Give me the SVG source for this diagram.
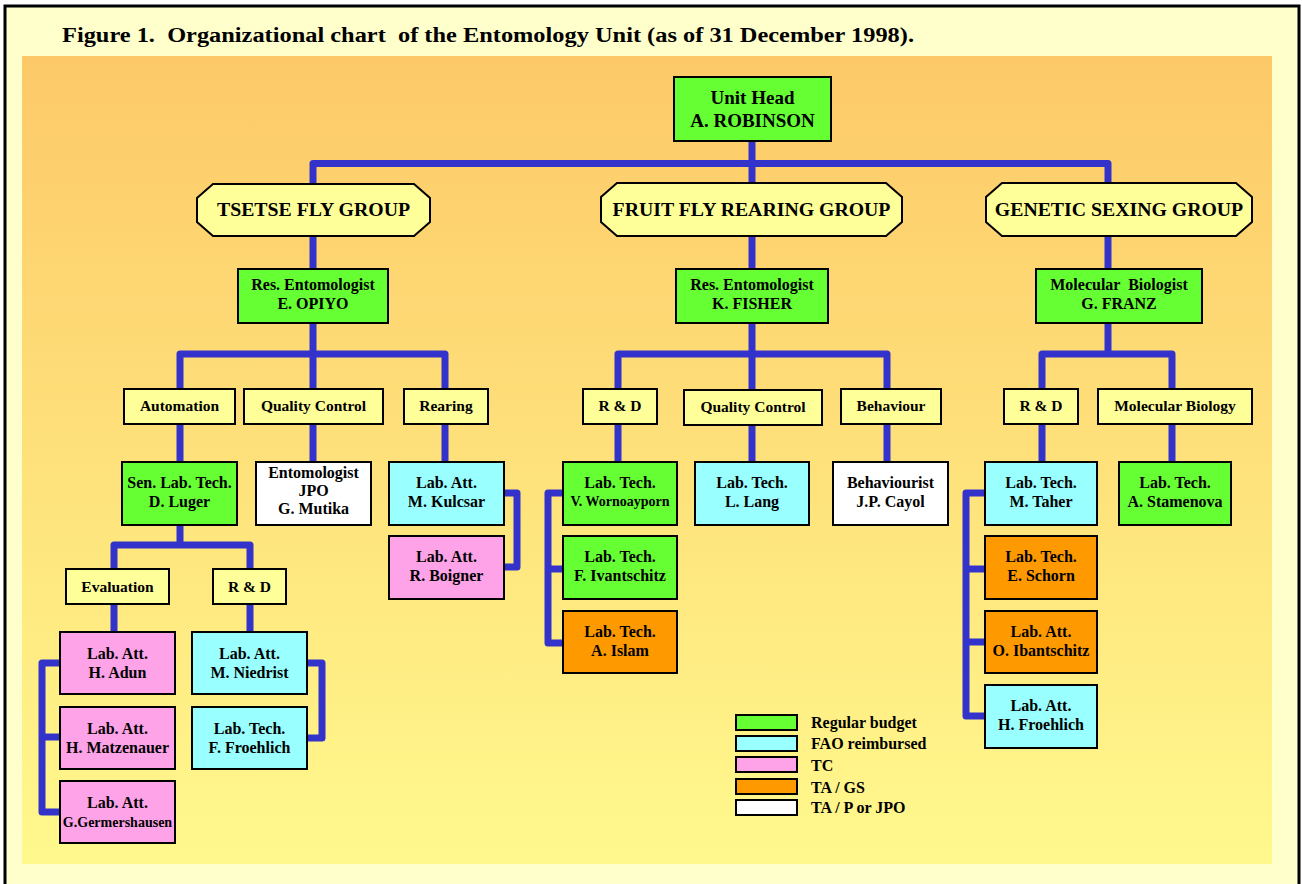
<svg xmlns="http://www.w3.org/2000/svg" width="1302" height="884" viewBox="0 0 1302 884">
<defs>
<linearGradient id="bg" x1="0" y1="0" x2="0" y2="1">
<stop offset="0" stop-color="#FDC968"/>
<stop offset="1" stop-color="#FFF98D"/>
</linearGradient>
</defs>
<style>
text{font-family:"Liberation Serif","Times New Roman",serif;font-weight:bold;fill:#000;text-anchor:middle}
.box{stroke:#000;stroke-width:2}
.g{fill:#66FF33}.c{fill:#99FFFF}.p{fill:#FFA3E8}.o{fill:#FF9900}.w{fill:#FFFFFF}.y{fill:#FFFF99}
.t19{font-size:19px}.t20{font-size:19.8px}.t16{font-size:16px}.t15{font-size:15.5px}.t14{font-size:14px}
.conn path{fill:none;stroke:#3333CC;stroke-width:7;stroke-linejoin:round}
.leg text{text-anchor:start;font-size:16px}
</style>
<rect x="5" y="6" width="1294" height="890" fill="#FFFFCC" stroke="#000" stroke-width="3"/>
<rect x="22" y="56" width="1250" height="808" fill="url(#bg)"/>
<text x="62" y="42" style="text-anchor:start;font-size:20.5px;white-space:pre" textLength="852" lengthAdjust="spacingAndGlyphs">Figure 1.  Organizational chart  of the Entomology Unit (as of 31 December 1998).</text>

<g id="connectors" class="conn">
<path d="M313,269 V163.5 H1108 V269"/>
<path d="M752,141 V269"/>
<path d="M313,323 V462"/>
<path d="M180,389 V354 H445 V389"/>
<path d="M180,424 V462"/>
<path d="M445,424 V462"/>
<path d="M180,525 V545"/>
<path d="M114,569 V545 H250 V569"/>
<path d="M114,604 V632"/>
<path d="M250,604 V632"/>
<path d="M60,663 H42 V812 H60"/>
<path d="M42,737 H60"/>
<path d="M307,663 H322 V738 H307"/>
<path d="M504,493 H517 V567 H504"/>
<path d="M752,323 V462"/>
<path d="M618,389 V354 H887 V389"/>
<path d="M618,424 V462"/>
<path d="M887,424 V462"/>
<path d="M563,493 H548 V643 H563"/>
<path d="M548,569 H563"/>
<path d="M1108,323 V354"/>
<path d="M1042,389 V354 H1172 V389"/>
<path d="M1042,424 V462"/>
<path d="M1172,424 V462"/>
<path d="M985,493 H966 V716 H985"/>
<path d="M966,569 H985"/>
<path d="M966,642 H985"/>
</g>

<g id="unit-head"><rect class="box g" x="674" y="77" width="157" height="64"/><text class="t19" x="752.5" y="104">Unit Head</text><text class="t19" x="752.5" y="127">A. ROBINSON</text></g>

<g id="tsetse-group"><polygon class="box y" points="213,184 414,184 430,198 430,222 414,236 213,236 197,222 197,198"/><text class="t20" x="313.5" y="216">TSETSE FLY GROUP</text></g>
<g id="fruitfly-group"><polygon class="box y" points="617,183 886,183 902,197 902,222 886,236 617,236 601,222 601,197"/><text class="t20" x="751.5" y="216">FRUIT FLY REARING GROUP</text></g>
<g id="genetic-group"><polygon class="box y" points="1002,183 1236,183 1252,197 1252,222 1236,236 1002,236 986,222 986,197"/><text class="t20" x="1119" y="216">GENETIC SEXING GROUP</text></g>

<g id="opiyo"><rect class="box g" x="238" y="269" width="150" height="54"/><text class="t16" x="313" y="290">Res. Entomologist</text><text class="t16" x="313" y="309">E. OPIYO</text></g>
<g id="fisher"><rect class="box g" x="676" y="269" width="152" height="54"/><text class="t16" x="752" y="290">Res. Entomologist</text><text class="t16" x="752" y="309">K. FISHER</text></g>
<g id="franz"><rect class="box g" x="1036" y="269" width="166" height="54"/><text class="t16" x="1119" y="290" style="white-space:pre">Molecular  Biologist</text><text class="t16" x="1119" y="309">G. FRANZ</text></g>

<g id="automation"><rect class="box y" x="124" y="389" width="111" height="35"/><text class="t15" x="179.5" y="411">Automation</text></g>
<g id="tsetse-qc"><rect class="box y" x="244" y="389" width="139" height="35"/><text class="t15" x="313.5" y="411">Quality Control</text></g>
<g id="rearing"><rect class="box y" x="404" y="389" width="84" height="35"/><text class="t15" x="446" y="411">Rearing</text></g>
<g id="fruit-rd"><rect class="box y" x="583" y="389" width="74" height="35"/><text class="t15" x="620" y="411">R &amp; D</text></g>
<g id="fruit-qc"><rect class="box y" x="684" y="390" width="138" height="35"/><text class="t15" x="753" y="412">Quality Control</text></g>
<g id="behaviour"><rect class="box y" x="841" y="389" width="100" height="35"/><text class="t15" x="891" y="411">Behaviour</text></g>
<g id="genetic-rd"><rect class="box y" x="1004" y="389" width="74" height="35"/><text class="t15" x="1041" y="411">R &amp; D</text></g>
<g id="molbio"><rect class="box y" x="1098" y="389" width="154" height="35"/><text class="t15" x="1175" y="411">Molecular Biology</text></g>
<g id="evaluation"><rect class="box y" x="66" y="569" width="103" height="35"/><text class="t15" x="117.5" y="592">Evaluation</text></g>
<g id="tsetse-rd"><rect class="box y" x="213" y="569" width="73" height="35"/><text class="t15" x="249.5" y="592">R &amp; D</text></g>

<g id="luger"><rect class="box g" x="122" y="462" width="115" height="63"/><text class="t16" x="179.5" y="488">Sen. Lab. Tech.</text><text class="t16" x="179.5" y="507">D. Luger</text></g>
<g id="mutika"><rect class="box w" x="256" y="462" width="115" height="63"/><text class="t16" x="313.5" y="478">Entomologist</text><text class="t16" x="313.5" y="496">JPO</text><text class="t16" x="313.5" y="514">G. Mutika</text></g>
<g id="kulcsar"><rect class="box c" x="389" y="462" width="115" height="63"/><text class="t16" x="446.5" y="488">Lab. Att.</text><text class="t16" x="446.5" y="507">M. Kulcsar</text></g>
<g id="boigner"><rect class="box p" x="389" y="536" width="115" height="63"/><text class="t16" x="446.5" y="562">Lab. Att.</text><text class="t16" x="446.5" y="581">R. Boigner</text></g>
<g id="adun"><rect class="box p" x="60" y="632" width="115" height="62"/><text class="t16" x="117.5" y="659">Lab. Att.</text><text class="t16" x="117.5" y="678">H. Adun</text></g>
<g id="matzenauer"><rect class="box p" x="60" y="707" width="115" height="62"/><text class="t16" x="117.5" y="734">Lab. Att.</text><text class="t16" x="117.5" y="753">H. Matzenauer</text></g>
<g id="germershausen"><rect class="box p" x="60" y="781" width="115" height="62"/><text class="t16" x="117.5" y="808">Lab. Att.</text><text class="t14" x="117.5" y="827">G.Germershausen</text></g>
<g id="niedrist"><rect class="box c" x="192" y="632" width="115" height="62"/><text class="t16" x="249.5" y="659">Lab. Att.</text><text class="t16" x="249.5" y="678">M. Niedrist</text></g>
<g id="f-froehlich"><rect class="box c" x="192" y="707" width="115" height="62"/><text class="t16" x="249.5" y="734">Lab. Tech.</text><text class="t16" x="249.5" y="753">F. Froehlich</text></g>
<g id="wornoayporn"><rect class="box g" x="563" y="462" width="114" height="63"/><text class="t16" x="620" y="488">Lab. Tech.</text><text class="t14" x="620" y="506">V. Wornoayporn</text></g>
<g id="ivantschitz"><rect class="box g" x="563" y="536" width="114" height="63"/><text class="t16" x="620" y="562">Lab. Tech.</text><text class="t16" x="620" y="581">F. Ivantschitz</text></g>
<g id="islam"><rect class="box o" x="563" y="611" width="114" height="62"/><text class="t16" x="620" y="637">Lab. Tech.</text><text class="t16" x="620" y="656">A. Islam</text></g>
<g id="lang"><rect class="box c" x="695" y="462" width="114" height="63"/><text class="t16" x="752" y="488">Lab. Tech.</text><text class="t16" x="752" y="507">L. Lang</text></g>
<g id="cayol"><rect class="box w" x="833" y="462" width="115" height="63"/><text class="t16" x="890.5" y="488">Behaviourist</text><text class="t16" x="890.5" y="507">J.P. Cayol</text></g>
<g id="taher"><rect class="box c" x="985" y="462" width="112" height="63"/><text class="t16" x="1041" y="488">Lab. Tech.</text><text class="t16" x="1041" y="507">M. Taher</text></g>
<g id="schorn"><rect class="box o" x="985" y="536" width="112" height="63"/><text class="t16" x="1041" y="562">Lab. Tech.</text><text class="t16" x="1041" y="581">E. Schorn</text></g>
<g id="ibantschitz"><rect class="box o" x="985" y="611" width="112" height="62"/><text class="t16" x="1041" y="637">Lab. Att.</text><text class="t16" x="1041" y="656">O. Ibantschitz</text></g>
<g id="h-froehlich"><rect class="box c" x="985" y="685" width="112" height="63"/><text class="t16" x="1041" y="711">Lab. Att.</text><text class="t16" x="1041" y="730">H. Froehlich</text></g>
<g id="stamenova"><rect class="box g" x="1119" y="462" width="112" height="63"/><text class="t16" x="1175" y="488">Lab. Tech.</text><text class="t16" x="1175" y="507">A. Stamenova</text></g>

<g id="legend" class="leg">
<rect class="box g" x="736" y="715" width="61" height="15"/><text x="811" y="728">Regular budget</text>
<rect class="box c" x="736" y="736" width="61" height="15"/><text x="811" y="749">FAO reimbursed</text>
<rect class="box p" x="736" y="757" width="61" height="15"/><text x="811" y="771">TC</text>
<rect class="box o" x="736" y="779" width="61" height="15"/><text x="811" y="793">TA / GS</text>
<rect class="box w" x="736" y="800" width="61" height="15"/><text x="811" y="813">TA / P or JPO</text>
</g>
</svg>
